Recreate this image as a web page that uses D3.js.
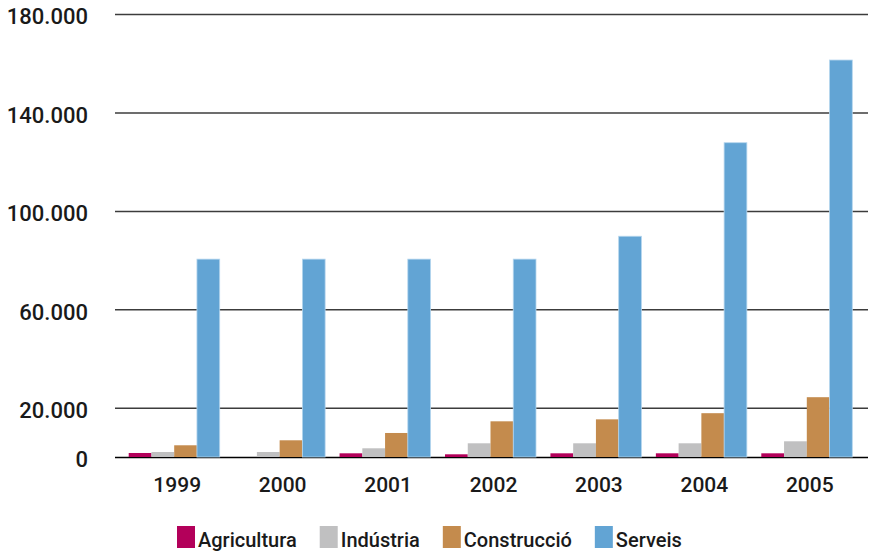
<!DOCTYPE html>
<html>
<head>
<meta charset="utf-8">
<script src="https://cdn.jsdelivr.net/npm/d3@7"></script>
<style>
  body { margin: 0; background: #fff; }
  text { font-family: "Roboto", "DejaVu Sans Condensed", sans-serif; font-weight: 500; fill: #1a1a1a; }
</style>
</head>
<body>
<script>
const years = ["1999", "2000", "2001", "2002", "2003", "2004", "2005"];
const sectors = ["Agricultura", "Indústria", "Construcció", "Serveis"];
const agricultura = [1630, 0, 1500, 1100, 1500, 1500, 1500];
const industria = [2030, 2030, 3540, 5570, 5570, 5570, 6380];
const construccio = [4760, 6790, 9760, 14500, 15300, 17800, 24300];
const serveis = [80400, 80400, 80400, 80400, 89700, 127700, 161300];
const yTicks = [0, 20000, 60000, 100000, 140000, 180000];
const colors = ["#b3005a", "#c0c0c1", "#c48b4d", "#62a4d4"];

const series = [agricultura, industria, construccio, serveis];
const w = 872, h = 554;
const left = 115, right = 868;

const svg = d3.select("body").append("svg")
  .attr("width", w)
  .attr("height", h);

const x = d3.scaleBand()
  .domain(years)
  .range([left, 866])
  .paddingInner(0.137)
  .paddingOuter(0.13);

const xs = d3.scaleBand()
  .domain(sectors)
  .range([0, x.bandwidth()]);

const y = d3.scaleLinear()
  .domain([0, 180000])
  .range([457, 14]);

const loc = d3.formatLocale({decimal: ",", thousands: ".", grouping: [3], currency: ["", "€"]});
const fmt = loc.format(",");

// y axis with gridlines
const yAxis = svg.append("g")
  .attr("transform", "translate(" + left + ",0)")
  .call(d3.axisLeft(y).tickValues(yTicks).tickFormat(fmt)
    .tickSize(-(right - left)).tickPadding(27));
yAxis.select(".domain").remove();
yAxis.selectAll(".tick line")
  .attr("stroke", d => d === 0 ? "#000" : "#3c3c3c")
  .attr("stroke-width", 1.5);
yAxis.selectAll(".tick text")
  .attr("dy", "0.45em")
  .style("font-size", "22px");

// bars
const groups = svg.append("g").selectAll("g")
  .data(years)
  .join("g")
  .attr("transform", d => "translate(" + x(d) + ",0)");

groups.selectAll("rect")
  .data((yr, i) => sectors.map((s, j) => ({s: s, j: j, v: series[j][i]})))
  .join("rect")
  .attr("x", d => xs(d.s))
  .attr("width", xs.bandwidth())
  .attr("y", d => y(d.v))
  .attr("height", d => y(0) - y(d.v))
  .attr("fill", d => colors[d.j])
  .attr("stroke", d => d.j === 3 ? "#b5d6ee" : "none")
  .attr("stroke-width", 0.8);

// x axis labels
const xAxis = svg.append("g")
  .attr("transform", "translate(3," + 470 + ")")
  .call(d3.axisBottom(x).tickSize(0).tickPadding(7));
xAxis.select(".domain").remove();
xAxis.selectAll(".tick text").style("font-size", "21px");

// legend
const legend = svg.append("g").attr("transform", "translate(177,526)");
let lx = 0;
sectors.forEach((s, i) => {
  const g = legend.append("g").attr("transform", "translate(" + lx + ",0)");
  g.append("rect")
    .attr("width", 18)
    .attr("height", 22)
    .attr("fill", colors[i]);
  const t = g.append("text")
    .attr("x", 21)
    .attr("y", 21)
    .style("font-size", "20px")
    .text(s);
  lx += 21 + t.node().getComputedTextLength() + 23;
});
</script>
</body>
</html>
